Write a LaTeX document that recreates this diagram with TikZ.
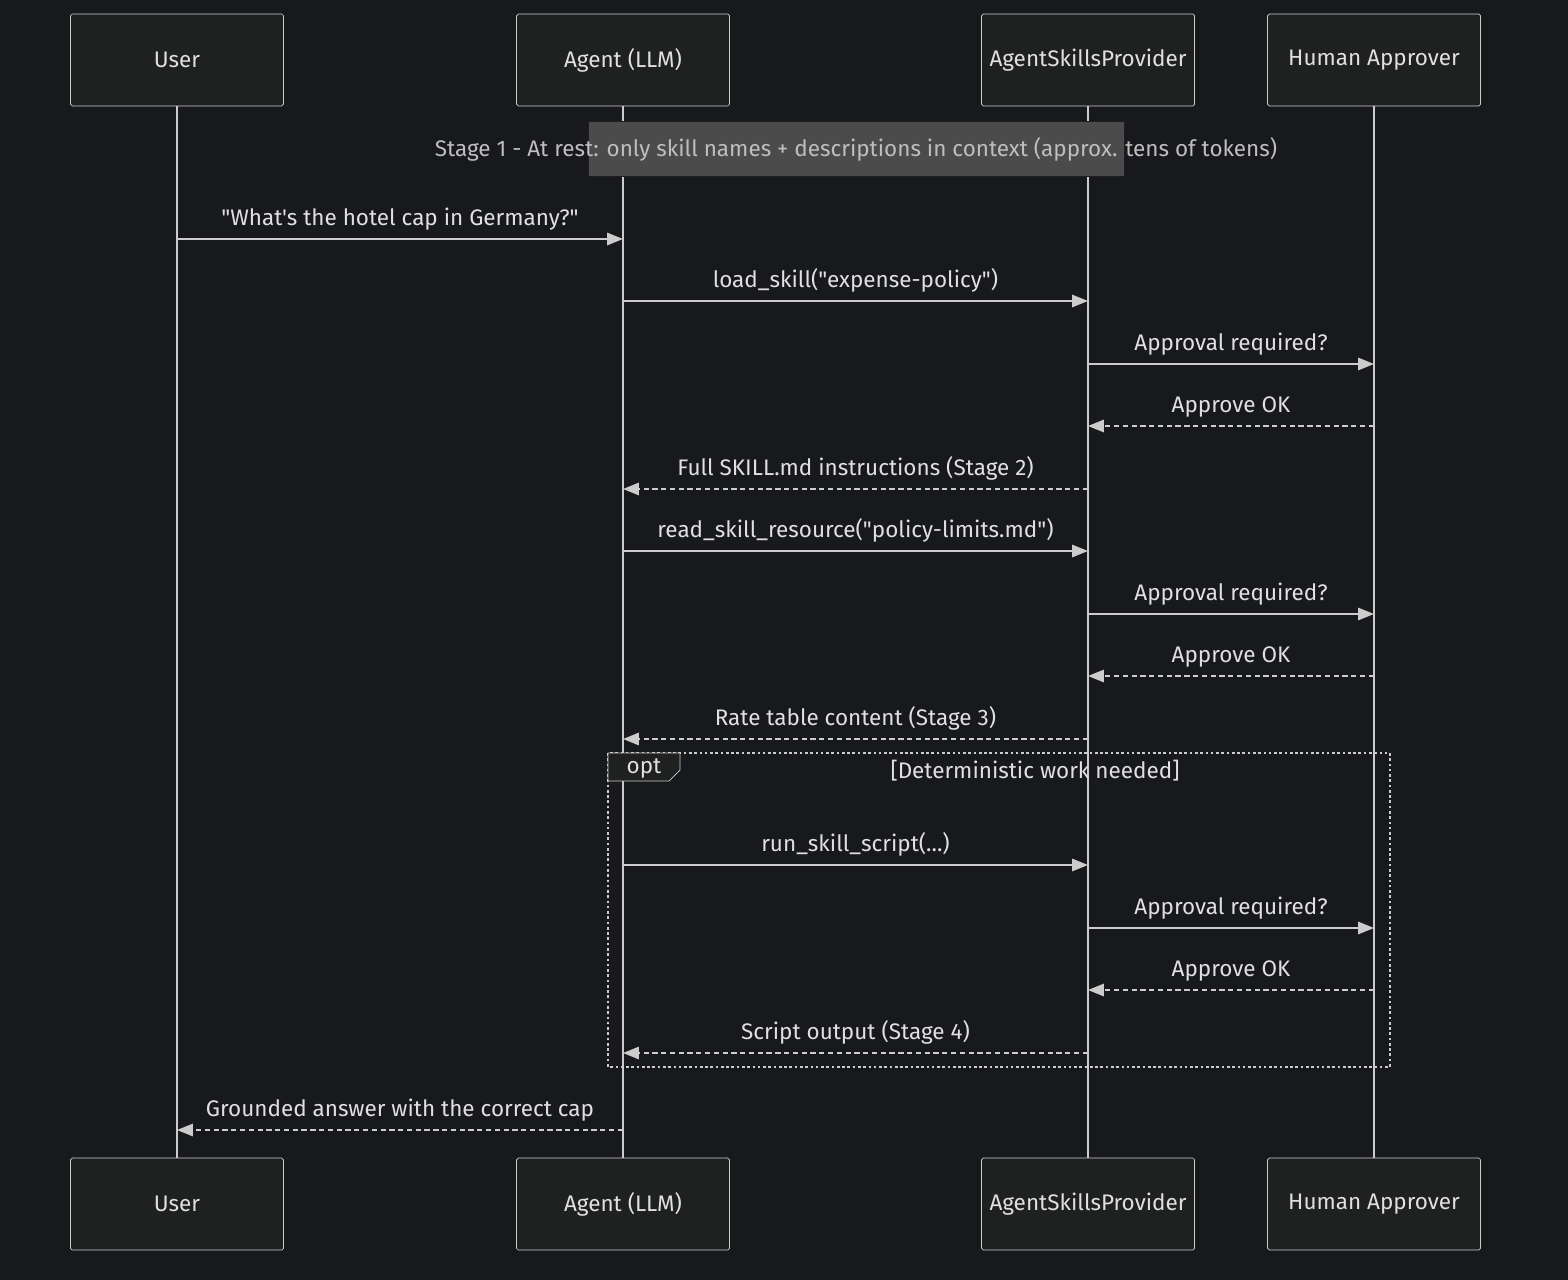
\documentclass[tikz,border=0pt]{standalone}
\usepackage{fontspec}
\setmainfont{Fira Sans}[Ligatures=TeXOff]
\usetikzlibrary{positioning,arrows.meta}
\definecolor{bgdark}{HTML}{18191D}
\definecolor{boxfill}{HTML}{1F2020}
\definecolor{linegray}{HTML}{CCCCCC}
\definecolor{notefill}{HTML}{4A4B4A}
\definecolor{txt}{HTML}{E0E0E0}
\tikzset{
 actor/.style={draw=linegray,fill=boxfill,minimum width=213\px,minimum height=92\px,inner sep=0pt,text=txt,rounded corners=1pt},
 life/.style={linegray,line width=1.3pt},
 call/.style={linegray,line width=1pt,-{Triangle[length=9pt,width=7pt]}},
 reply/.style={call,dash pattern=on 3pt off 2pt},
 lbl/.style={text=txt,above=1pt,midway}
}
\newlength{\px}\setlength{\px}{0.02cm}
\begin{document}
\begin{tikzpicture}[x=0.02cm,y=-0.02cm,font=\fontsize{12.8}{16}\selectfont]
 \fill[bgdark] (0,0) rectangle (1568,1280);
 \useasboundingbox (0,0) rectangle (1568,1280);

 % participants
 \node[actor] (user) at (177,60) {User};
 \node[actor] (agent) at (623,60) {Agent (LLM)};
 \node[actor] (asp) at (1088,60) {AgentSkillsProvider};
 \node[actor] (human) at (1374,60) {Human Approver};
 \node[actor] (userb) at (177,1204) {User};
 \node[actor] (agentb) at (623,1204) {Agent (LLM)};
 \node[actor] (aspb) at (1088,1204) {AgentSkillsProvider};
 \node[actor] (humanb) at (1374,1204) {Human Approver};

 \draw[life] (user) -- (userb);
 \draw[life] (agent) -- (agentb);
 \draw[life] (asp) -- (aspb);
 \draw[life] (human) -- (humanb);

 % note
 \fill[notefill] (588,121) rectangle (1124,176);
 \draw[black!60!notefill] (588,121) rectangle (1124,176);
 \node[text=txt!85!black] (note) at (856,149) {Stage 1 - At rest: only skill names + descriptions in context (approx. tens of tokens)};

 % messages
 \draw[call] (user |- 0,239) -- (agent |- 0,239) node[lbl] {"What's the hotel cap in Germany?"};
 \draw[call] (agent |- 0,301) -- (asp |- 0,301) node[lbl] {load\_skill("expense-policy")};
 \draw[call] (asp |- 0,364) -- (human |- 0,364) node[lbl] {Approval required?};
 \draw[reply] (human |- 0,426) -- (asp |- 0,426) node[lbl] {Approve OK};
 \draw[reply] (asp |- 0,489) -- (agent |- 0,489) node[lbl] {Full SKILL.md instructions (Stage 2)};
 \draw[call] (agent |- 0,551) -- (asp |- 0,551) node[lbl] {read\_skill\_resource("policy-limits.md")};
 \draw[call] (asp |- 0,614) -- (human |- 0,614) node[lbl] {Approval required?};
 \draw[reply] (human |- 0,676) -- (asp |- 0,676) node[lbl] {Approve OK};
 \draw[reply] (asp |- 0,739) -- (agent |- 0,739) node[lbl] {Rate table content (Stage 3)};

 % opt block
 \draw[linegray,line width=1.2pt,dash pattern=on 1.5pt off 1.5pt] (608,753) rectangle (1390,1067);
 \draw[linegray,fill=boxfill] (608,753) -- (680,753) -- (680,770) -- (669,781) -- (608,781) -- cycle;
 \node[text=txt] (opt) at (644,769) {opt};
 \node[text=txt] (cond) at (1035,771) {[Deterministic work needed]};

 \draw[call] (agent |- 0,865) -- (asp |- 0,865) node[lbl] {run\_skill\_script(...)};
 \draw[call] (asp |- 0,928) -- (human |- 0,928) node[lbl] {Approval required?};
 \draw[reply] (human |- 0,990) -- (asp |- 0,990) node[lbl] {Approve OK};
 \draw[reply] (asp |- 0,1053) -- (agent |- 0,1053) node[lbl] {Script output (Stage 4)};

 \draw[reply] (agent |- 0,1130) -- (user |- 0,1130) node[lbl] {Grounded answer with the correct cap};
\end{tikzpicture}
\end{document}
